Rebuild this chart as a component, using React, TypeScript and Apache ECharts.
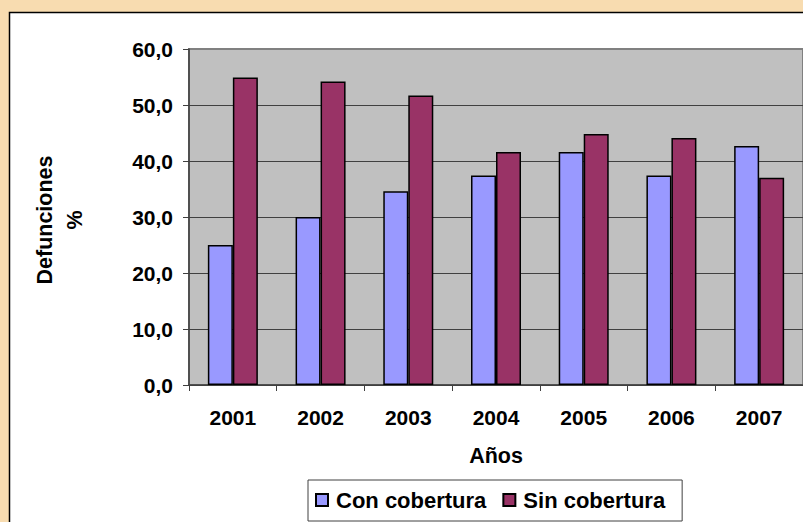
import React, { useEffect, useRef } from "react";
import * as echarts from "echarts";

const years = ["2001", "2002", "2003", "2004", "2005", "2006", "2007"];
const conCobertura = [25.0, 30.0, 34.6, 37.4, 41.6, 37.4, 42.7];
const sinCobertura = [54.9, 54.2, 51.7, 41.6, 44.8, 44.1, 37.0];
const seriesNames = ["Con cobertura", "Sin cobertura"];
const yTitle = "Defunciones\n%";
const xTitle = "Años";

const FONT = "Arial, 'Liberation Sans', sans-serif";

export default function App() {
  const ref = useRef<HTMLDivElement>(null);
  useEffect(() => {
    if (!ref.current) return;
    const chart = echarts.init(ref.current, null, { renderer: "svg" });
    chart.setOption({
      animation: false,
      backgroundColor: "#F8DCB0",
      textStyle: { fontFamily: FONT },
      graphic: [
        {
          type: "rect",
          z: -10,
          shape: { x: 9.5, y: 12.5, width: 820, height: 540 },
          style: { fill: "#FFFFFF", stroke: "#000000", lineWidth: 1.5 },
        },
        {
          type: "text",
          x: 60,
          y: 220,
          rotation: Math.PI / 2,
          style: {
            text: yTitle,
            font: `bold 21.5px ${FONT}`,
            fill: "#000",
            align: "center",
            verticalAlign: "middle",
            lineHeight: 30,
          },
        },
      ],
      legend: {
        left: 308,
        top: 480,
        data: seriesNames,
        icon: "rect",
        itemWidth: 12,
        itemHeight: 12,
        itemGap: 16,
        borderColor: "#404040",
        borderWidth: 1,
        padding: [9, 17, 10, 7],
        textStyle: {
          fontSize: 22,
          fontWeight: "bold",
          color: "#000",
          fontFamily: FONT,
          padding: [0, 0, 0, 3],
        },
      },
      grid: {
        left: 189,
        top: 49,
        width: 616,
        height: 336,
        show: true,
        backgroundColor: "#C0C0C0",
        borderColor: "#808080",
        borderWidth: 2,
      },
      xAxis: {
        type: "category",
        data: years,
        name: xTitle,
        nameLocation: "middle",
        nameGap: 60,
        nameTextStyle: { fontSize: 21.5, fontWeight: "bold", color: "#000" },
        axisLine: { lineStyle: { color: "#404040", width: 1.5 } },
        axisTick: { show: true, length: 6, lineStyle: { color: "#404040" } },
        axisLabel: { fontSize: 21, fontWeight: "bold", color: "#000", margin: 22 },
      },
      yAxis: {
        type: "value",
        min: 0,
        max: 60,
        interval: 10,
        axisLine: { show: true, lineStyle: { color: "#404040", width: 1.5 } },
        axisTick: { show: true, length: 6, lineStyle: { color: "#404040" } },
        axisLabel: {
          fontSize: 21,
          fontWeight: "bold",
          color: "#000",
          margin: 16,
          formatter: (v: number) => v.toFixed(1).replace(".", ","),
        },
        splitLine: { show: true, showMaxLine: false, lineStyle: { color: "#404040", width: 1 } },
      },
      series: [
        {
          name: seriesNames[0],
          type: "bar",
          data: conCobertura,
          barWidth: 25,
          barGap: "0%",
          itemStyle: { color: "#9999FF", borderColor: "#000", borderWidth: 1.5 },
        },
        {
          name: seriesNames[1],
          type: "bar",
          data: sinCobertura,
          barWidth: 25,
          barGap: "0%",
          itemStyle: { color: "#993366", borderColor: "#000", borderWidth: 1.5 },
        },
      ],
    });
    return () => chart.dispose();
  }, []);
  return (
    <div
      ref={ref}
      style={{ position: "absolute", left: 0, top: 0, width: 803, height: 522 }}
    />
  );
}
